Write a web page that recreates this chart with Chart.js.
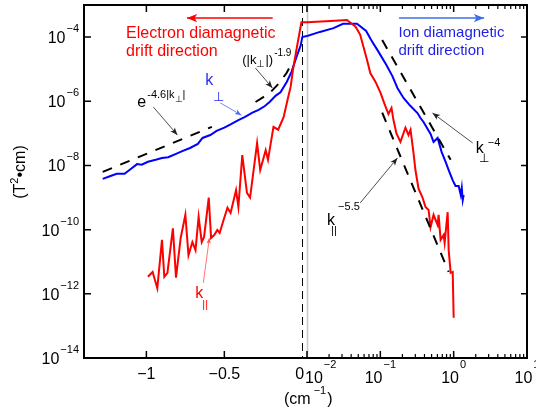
<!DOCTYPE html>
<html>
<head>
<meta charset="utf-8">
<script src="https://cdn.jsdelivr.net/npm/chart.js@4.4.0/dist/chart.umd.min.js"></script>
<style>
  html, body { margin: 0; padding: 0; background: #fff; }
  #caixa { width: 536px; height: 407px; position: relative; }
</style>
</head>
<body>
<div id="caixa"><canvas id="espectro"></canvas></div>
<script>
// k < 0 (eixo linear, esquerda)
const blueLeftK = [-1.28, -1.23, -1.19, -1.14, -1.10, -1.06, -1.03, -0.99, -0.94, -0.90, -0.86, -0.81, -0.77, -0.72, -0.67, -0.64, -0.59, -0.55, -0.50, -0.46, -0.41, -0.37, -0.32, -0.28, -0.24, -0.21, -0.17, -0.14, -0.10, -0.07, -0.04, -0.01, 0, 0.03];
const blueLeftV = [3.8e-9, 4.7e-9, 5.5e-9, 5.5e-9, 7.8e-9, 1.1e-8, 1.05e-8, 1.3e-8, 1.5e-8, 1.7e-8, 1.8e-8, 2.3e-8, 2.8e-8, 3.5e-8, 4.7e-8, 7.2e-8, 8.9e-8, 1.2e-7, 1.5e-7, 1.9e-7, 2.6e-7, 3.2e-7, 4.4e-7, 5.4e-7, 7.1e-7, 9.5e-7, 1.5e-6, 1.9e-6, 4.0e-6, 8.1e-6, 2.2e-5, 5.6e-5, 1.0e-4, 1.08e-4];

const redLeftK = [-0.99, -0.96, -0.93, -0.90, -0.885, -0.865, -0.83, -0.81, -0.78, -0.75, -0.73, -0.705, -0.685, -0.665, -0.645, -0.63, -0.60, -0.585, -0.565, -0.545, -0.53, -0.505, -0.48, -0.46, -0.425, -0.41, -0.385, -0.355, -0.335, -0.29, -0.27, -0.235, -0.22, -0.185, -0.155, -0.12, -0.095, -0.075, -0.06, -0.04, -0.02, -0.006, 0.03];
const redLeftV = [3.4e-12, 4.8e-12, 1.5e-12, 4.8e-11, 3.4e-12, 4.5e-12, 1.1e-10, 3.2e-12, 5.5e-11, 2.9e-10, 1.6e-11, 4.1e-11, 2.3e-11, 2.5e-10, 4.1e-11, 5.9e-11, 1.0e-9, 5.5e-11, 6.8e-11, 9.8e-11, 7.9e-11, 2.0e-10, 4.8e-10, 3.3e-10, 1.7e-9, 5.1e-10, 2.1e-8, 1.4e-9, 1.0e-9, 5.0e-8, 7.2e-9, 3.0e-8, 1.5e-8, 1.6e-7, 1.3e-7, 3.2e-7, 1.1e-6, 2.8e-6, 9.5e-6, 3.5e-5, 1.2e-4, 2.9e-4, 2.9e-4];

// k > 0 (eixo log, direita)
const blueRightK = [0.01, 0.015, 0.023, 0.031, 0.048, 0.064, 0.075, 0.091, 0.121, 0.146, 0.171, 0.207, 0.258, 0.321, 0.353, 0.388, 0.484, 0.532, 0.604, 0.686, 0.777, 0.855, 0.969, 1.06, 1.17, 1.25, 1.29, 1.33, 1.37];
const blueRightV = [1.08e-4, 1.45e-4, 1.9e-4, 2.6e-4, 2.6e-4, 1.55e-4, 8.1e-5, 4.0e-5, 1.35e-5, 6.1e-6, 2.6e-6, 1.27e-6, 7.1e-7, 4.3e-7, 3.0e-7, 2.26e-7, 9.6e-8, 5.4e-8, 7.2e-8, 2.6e-8, 1.29e-8, 7.2e-9, 3.5e-9, 2.3e-9, 2.3e-9, 1.2e-9, 2.0e-9, 8.4e-10, 1.2e-9];

const redRightK = [0.01, 0.021, 0.035, 0.046, 0.053, 0.059, 0.066, 0.073, 0.086, 0.10, 0.114, 0.129, 0.142, 0.151, 0.166, 0.188, 0.22, 0.242, 0.258, 0.283, 0.301, 0.332, 0.376, 0.413, 0.455, 0.484, 0.532, 0.604, 0.623, 0.664, 0.73, 0.753, 0.828, 0.855, 0.91, 0.97, 1.0];
const redRightV = [2.9e-4, 3.2e-4, 3.4e-4, 2.1e-4, 1.2e-4, 4.9e-5, 1.9e-5, 7.6e-6, 4.0e-6, 1.9e-6, 8.3e-7, 4.0e-7, 6.2e-7, 2.6e-7, 1.0e-7, 5.4e-8, 1.5e-7, 8.9e-8, 1.3e-7, 2.5e-8, 7.2e-9, 1.9e-9, 1.0e-9, 5.1e-10, 4.1e-10, 1.2e-10, 2.9e-10, 1.4e-10, 2.9e-10, 4.8e-11, 6.8e-11, 3.9e-11, 3.5e-10, 2.3e-11, 4.5e-12, 4.8e-12, 1.8e-13];

// ajustes (linhas tracejadas)
const expFitK = [-1.28, -0.58];
const expFitV = [6.3e-9, 1.6e-7];
const powFitK = [-0.30, -0.25, -0.20, -0.15, -0.10, -0.075];
const powFitV = [9.5e-7, 1.35e-6, 2.0e-6, 3.6e-6, 7.7e-6, 1.3e-5];
const perpFitK = [0.106, 0.91];
const perpFitV = [8.1e-5, 1.5e-8];
const parFitK = [0.106, 0.855];
const parFitV = [4.4e-7, 4.8e-12];

// marcas dos eixos
const yTicks = [1e-4, 1e-6, 1e-8, 1e-10, 1e-12, 1e-14];
const yTickExp = ['\u22124', '\u22126', '\u22128', '\u221210', '\u221212', '\u221214'];
const xlTicks = [-1, -0.5];
const xlTickLabels = ['\u22121', '\u22120.5'];
const xrTicks = [0.01, 0.1, 1, 10];
const xrTickExp = ['\u22122', '\u22121', '0', '1'];

document.addEventListener('DOMContentLoaded', () => {
    const FONTE = '"Liberation Sans", Arial, sans-serif';
    const AZUL = '#0000ff';
    const VERMELHO = '#ff0000';

    function pares(ks, vs) {
        return ks.map((k, i) => ({ x: k, y: vs[i] }));
    }

    function serie(ks, vs, eixo, cor, ordem, tracejado) {
        return {
            data: pares(ks, vs),
            xAxisID: eixo,
            yAxisID: 'y',
            borderColor: cor,
            borderWidth: 2,
            borderDash: tracejado ? [10, 9] : [],
            pointRadius: 0,
            tension: 0,
            fill: false,
            order: ordem
        };
    }

    // escreve pedaços de texto (normal / sobrescrito / subscrito) em sequência
    function medir(ctx, partes) {
        let w = 0;
        partes.forEach(p => {
            ctx.font = p[1] + 'px ' + FONTE;
            w += ctx.measureText(p[0]).width + (p[3] || 0);
        });
        return w;
    }
    function escrever(ctx, x, y, partes, cor) {
        ctx.fillStyle = cor;
        ctx.textBaseline = 'alphabetic';
        ctx.textAlign = 'left';
        let cx = x;
        partes.forEach(p => {
            ctx.font = p[1] + 'px ' + FONTE;
            cx += (p[3] || 0);
            ctx.fillText(p[0], cx, y + (p[2] || 0));
            cx += ctx.measureText(p[0]).width;
        });
    }

    function seta(ctx, a, b, cor, larg, cab) {
        ctx.save();
        ctx.strokeStyle = cor;
        ctx.fillStyle = cor;
        ctx.lineWidth = larg;
        ctx.beginPath();
        ctx.moveTo(a.x, a.y);
        ctx.lineTo(b.x, b.y);
        ctx.stroke();
        const ang = Math.atan2(b.y - a.y, b.x - a.x);
        ctx.beginPath();
        ctx.moveTo(b.x, b.y);
        ctx.lineTo(b.x - cab * Math.cos(ang - 0.38), b.y - cab * Math.sin(ang - 0.38));
        ctx.lineTo(b.x - cab * 0.7 * Math.cos(ang), b.y - cab * 0.7 * Math.sin(ang));
        ctx.lineTo(b.x - cab * Math.cos(ang + 0.38), b.y - cab * Math.sin(ang + 0.38));
        ctx.closePath();
        ctx.fill();
        ctx.restore();
    }

    const eixosPlugin = {
        id: 'eixosMatlab',
        beforeDatasetsDraw(chart) {
            const ctx = chart.ctx;
            const area = chart.chartArea;
            const xl = chart.scales.xl, xr = chart.scales.xr;
            ctx.save();
            // linha cinza no início do eixo log
            ctx.strokeStyle = '#c8c8c8';
            ctx.lineWidth = 1.5;
            const xg = xr.getPixelForValue(0.01) + 0.5;
            ctx.beginPath(); ctx.moveTo(xg, area.top); ctx.lineTo(xg, area.bottom); ctx.stroke();
            // linha tracejada em k = 0
            ctx.strokeStyle = '#000';
            ctx.lineWidth = 1;
            ctx.setLineDash([8, 5]);
            const x0 = Math.round(xl.getPixelForValue(0)) + 0.5;
            ctx.beginPath(); ctx.moveTo(x0, area.top); ctx.lineTo(x0, area.bottom); ctx.stroke();
            ctx.restore();
        },
        afterDatasetsDraw(chart) {
            const ctx = chart.ctx;
            const area = chart.chartArea;
            const xl = chart.scales.xl, xr = chart.scales.xr, y = chart.scales.y;
            const pt = (k, v) => ({ x: (k <= 0 ? xl : xr).getPixelForValue(k), y: y.getPixelForValue(v) });

            ctx.save();
            ctx.strokeStyle = '#000';
            ctx.lineWidth = 2;
            ctx.strokeRect(area.left, area.top, area.right - area.left, area.bottom - area.top);

            // marcas do eixo y (esquerda e direita) + rótulos
            ctx.lineWidth = 1.5;
            yTicks.forEach((v, i) => {
                const yy = y.getPixelForValue(v);
                ctx.beginPath();
                ctx.moveTo(area.left, yy); ctx.lineTo(area.left + 7, yy);
                ctx.moveTo(area.right, yy); ctx.lineTo(area.right - 6, yy);
                ctx.stroke();
                const partes = [['10', 16, 6], [yTickExp[i], 11, -5, 1]];
                const w = medir(ctx, partes);
                escrever(ctx, area.left - 5 - w, yy, partes, '#000');
            });

            // eixo linear (k < 0)
            xlTicks.forEach((k, i) => {
                const xx = xl.getPixelForValue(k);
                ctx.beginPath();
                ctx.moveTo(xx, area.bottom); ctx.lineTo(xx, area.bottom - 7);
                ctx.moveTo(xx, area.top); ctx.lineTo(xx, area.top + 7);
                ctx.stroke();
                const partes = [[xlTickLabels[i], 16, 0]];
                escrever(ctx, xx - medir(ctx, partes) / 2, area.bottom + 21, partes, '#000');
            });
            const x0 = xl.getPixelForValue(0);
            escrever(ctx, x0 - 7, area.bottom + 21, [['0', 16, 0]], '#000');

            // eixo log (k > 0): marcas maiores e menores
            ctx.lineWidth = 1.2;
            [0.01, 0.1, 1].forEach(d => {
                for (let m = 2; m <= 9; m++) {
                    const xx = xr.getPixelForValue(d * m);
                    ctx.beginPath();
                    ctx.moveTo(xx, area.bottom); ctx.lineTo(xx, area.bottom - 4);
                    ctx.moveTo(xx, area.top); ctx.lineTo(xx, area.top + 4);
                    ctx.stroke();
                }
            });
            ctx.lineWidth = 1.5;
            xrTicks.forEach((k, i) => {
                const xx = xr.getPixelForValue(k);
                ctx.beginPath();
                ctx.moveTo(xx, area.bottom); ctx.lineTo(xx, area.bottom - 7);
                ctx.moveTo(xx, area.top); ctx.lineTo(xx, area.top + 7);
                ctx.stroke();
                const partes = [['10', 16, 0], [xrTickExp[i], 11, -15, 1]];
                const w = medir(ctx, partes);
                const xi = i === 0 ? xx - 2 : xx - w / 2;
                escrever(ctx, xi, area.bottom + 25, partes, '#000');
            });

            // títulos dos eixos
            escrever(ctx, 284, 404, [['(cm', 16, 0], ['\u22121', 11, -10, 3], [')', 16, 0, 1]], '#000');
            ctx.save();
            ctx.translate(25, 172);
            ctx.rotate(-Math.PI / 2);
            const tituloY = [['(T', 16, 0], ['2', 11, -7], ['\u2022cm)', 16, 0]];
            escrever(ctx, -medir(ctx, tituloY) / 2, 0, tituloY, '#000');
            ctx.restore();

            // setas de direção
            seta(ctx, pt(-0.19, 3.9e-4), pt(-0.74, 3.9e-4), VERMELHO, 1.5, 11);
            seta(ctx, pt(0.18, 3.9e-4), pt(2.6, 3.9e-4), '#3d6fe3', 1.5, 11);
            let p = pt(-1.13, 9.4e-5);
            escrever(ctx, p.x, p.y, [['Electron diamagnetic', 16, 0]], VERMELHO);
            p = pt(-1.13, 2.6e-5);
            escrever(ctx, p.x, p.y, [['drift direction', 16, 0]], VERMELHO);
            p = pt(0.177, 1.0e-4);
            escrever(ctx, p.x, p.y, [['Ion diamagnetic', 15, 0]], '#1f1fe6');
            p = pt(0.177, 2.8e-5);
            escrever(ctx, p.x, p.y, [['drift direction', 15, 0]], '#1f1fe6');

            // rótulos das curvas
            p = pt(-0.622, 3.2e-6);
            escrever(ctx, p.x, p.y, [['k', 16, 0]], '#2b2bf0');
            escrever(ctx, p.x + 8, p.y + 16, [['\u22a5', 13, 0]], '#2b2bf0');
            seta(ctx, pt(-0.526, 8.9e-7), pt(-0.391, 3.7e-7), '#4b6cf0', 0.8, 7);

            p = pt(-0.686, 7.4e-13);
            escrever(ctx, p.x, p.y, [['k', 16, 0]], VERMELHO);
            escrever(ctx, p.x + 7, p.y + 10, [['||', 11, 0]], VERMELHO);
            seta(ctx, pt(-0.635, 2.2e-12), pt(-0.596, 5.5e-11), '#ff5050', 0.8, 6);

            // rótulos dos ajustes
            p = pt(-1.058, 6.6e-7);
            escrever(ctx, p.x, p.y, [['e', 16, 0], ['-4.6|k', 11, -9, 1], ['\u22a5', 9, -5], ['|', 11, -9]], '#000');
            seta(ctx, pt(-0.955, 6.6e-7), pt(-0.801, 8.9e-8), '#222', 0.8, 8);

            p = pt(-0.385, 1.45e-5);
            escrever(ctx, p.x, p.y, [['(|k', 13, 0], ['\u22a5', 10, 3], ['|)', 13, 0], ['-1.9', 10, -8, 1]], '#000');
            seta(ctx, pt(-0.301, 1.09e-5), pt(-0.192, 2.6e-6), '#222', 0.8, 8);

            p = pt(2.0, 2.45e-8);
            escrever(ctx, p.x, p.y, [['k', 16, 0]], '#000');
            escrever(ctx, p.x + 3, p.y + 9, [['\u22a5', 12, 0]], '#000');
            escrever(ctx, p.x + 12, p.y - 7, [['\u22124', 11, 0]], '#000');
            seta(ctx, pt(1.82, 5.0e-8), pt(0.515, 4.3e-7), '#222', 0.8, 8);

            p = pt(0.0188, 1.4e-10);
            escrever(ctx, p.x, p.y, [['k', 16, 0]], '#000');
            escrever(ctx, p.x + 4, p.y + 9, [['||', 11, 0]], '#000');
            escrever(ctx, p.x + 11, p.y - 15, [['\u22125.5', 11, 0]], '#000');
            seta(ctx, pt(0.0532, 6.8e-10), pt(0.171, 1.7e-8), '#222', 0.8, 8);

            ctx.restore();
        }
    };

    new Chart(document.getElementById('espectro'), {
        type: 'line',
        data: {
            datasets: [
                serie(expFitK, expFitV, 'xl', '#000', 0, true),
                serie(powFitK, powFitV, 'xl', '#000', 1, true),
                serie(perpFitK, perpFitV, 'xr', '#000', 2, true),
                serie(parFitK, parFitV, 'xr', '#000', 3, true),
                serie(redLeftK, redLeftV, 'xl', VERMELHO, 4, false),
                serie(redRightK, redRightV, 'xr', VERMELHO, 5, false),
                serie(blueLeftK, blueLeftV, 'xl', AZUL, 6, false),
                serie(blueRightK, blueRightV, 'xr', AZUL, 7, false)
            ]
        },
        options: {
            responsive: true,
            maintainAspectRatio: false,
            animation: false,
            events: [],
            layout: { padding: { left: 84, right: 9, top: 5, bottom: 49 } },
            plugins: { legend: { display: false }, tooltip: { enabled: false } },
            scales: {
                xl: { type: 'linear', position: 'bottom', stack: 'k', stackWeight: 223, min: -1.4, max: 0.03, bounds: 'data', display: false },
                xr: { type: 'logarithmic', position: 'bottom', stack: 'k', stackWeight: 220, min: 0.01, max: 10, display: false },
                y: { type: 'logarithmic', position: 'left', min: 1e-14, max: 1e-3, display: false }
            }
        },
        plugins: [eixosPlugin]
    });
});
</script>
</body>
</html>
